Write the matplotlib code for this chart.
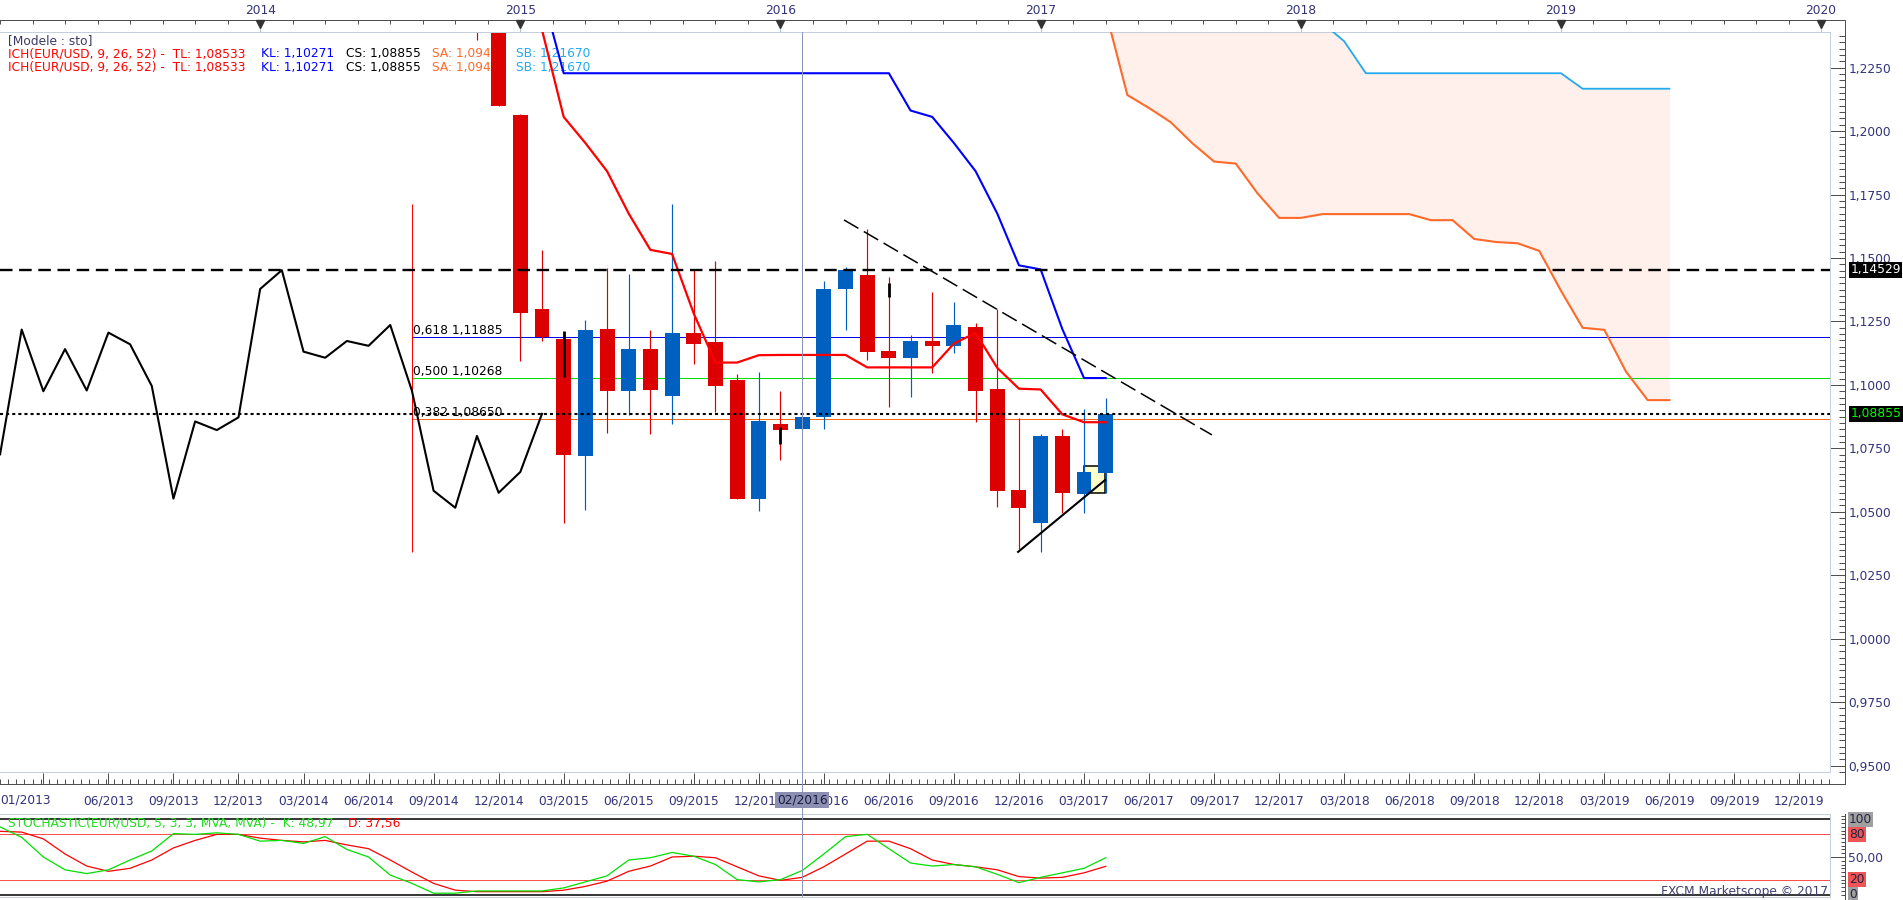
import numpy as np
import matplotlib.pyplot as plt
import matplotlib.transforms as mtransforms
from matplotlib.lines import Line2D
from matplotlib.patches import Rectangle
from matplotlib.ticker import FuncFormatter, MultipleLocator

plt.rcParams['font.family'] = ['DejaVu Sans']
plt.rcParams['lines.scale_dashes'] = False

# ---- donnees ----
mois = ['11/2014', '12/2014', '01/2015', '02/2015', '03/2015', '04/2015', '05/2015', '06/2015',
        '07/2015', '08/2015', '09/2015', '10/2015', '11/2015', '12/2015', '01/2016', '02/2016',
        '03/2016', '04/2016', '05/2016', '06/2016', '07/2016', '08/2016', '09/2016', '10/2016',
        '11/2016', '12/2016', '01/2017', '02/2017', '03/2017', '04/2017']
ouv = [1.2525, 1.2452, 1.2062, 1.1300, 1.1180, 1.0721, 1.1221, 1.0975, 1.1141, 1.0958,
       1.1206, 1.1171, 1.1019, 1.0552, 1.0846, 1.0827, 1.0872, 1.1379, 1.1433, 1.1134,
       1.1107, 1.1173, 1.1154, 1.1228, 1.0984, 1.0586, 1.0455, 1.0799, 1.0570, 1.0654]
haut = [1.2602, 1.2570, 1.2068, 1.1530, 1.1185, 1.1256, 1.1459, 1.1436, 1.1215, 1.1713,
        1.1457, 1.1490, 1.1044, 1.1050, 1.0974, 1.0880, 1.1409, 1.1463, 1.1614, 1.1424,
        1.1197, 1.1366, 1.1326, 1.1243, 1.1298, 1.0868, 1.0805, 1.0826, 1.0904, 1.0947]
bas = [1.2358, 1.2098, 1.1095, 1.1172, 1.0455, 1.0509, 1.0812, 1.0883, 1.0806, 1.0846,
       1.1084, 1.0892, 1.0550, 1.0504, 1.0706, 1.0820, 1.0826, 1.1216, 1.1098, 1.0914,
       1.0954, 1.1048, 1.1127, 1.0855, 1.0520, 1.0352, 1.0343, 1.0494, 1.0496, 1.0573]
ferm = [1.2452, 1.2098, 1.1285, 1.1190, 1.0725, 1.1218, 1.0975, 1.1141, 1.0978, 1.1206,
        1.1160, 1.0996, 1.0552, 1.0856, 1.0822, 1.0872, 1.1378, 1.1452, 1.1131, 1.1107,
        1.1173, 1.1154, 1.1236, 1.0977, 1.0583, 1.0516, 1.0799, 1.0575, 1.0657, 1.0886]

# petits traits noirs sur certaines bougies
marques_mois = ['03/2015', '01/2016', '06/2016']
marques_haut = [1.1213, 1.0835, 1.1401]
marques_bas = [1.1032, 1.0766, 1.1347]

# Ichimoku (9, 26, 52)
tenkan_debut = '02/2015'
tenkan = [1.2399, 1.2056, 1.1953, 1.1842, 1.1675, 1.1532, 1.1516, 1.1281, 1.1088, 1.1088,
          1.1117, 1.1118, 1.1118, 1.1118, 1.1118, 1.1069, 1.1069, 1.1069, 1.1069, 1.1163,
          1.1205, 1.1067, 1.0985, 1.0982, 1.0884, 1.0853, 1.0853]
kijun_debut = '02/2015'
kijun = [1.2545, 1.2228, 1.2228, 1.2228, 1.2228, 1.2228, 1.2228, 1.2228, 1.2228, 1.2228,
         1.2228, 1.2228, 1.2228, 1.2228, 1.2228, 1.2228, 1.2228, 1.2081, 1.2056, 1.1953,
         1.1842, 1.1675, 1.1471, 1.1455, 1.1220, 1.1027, 1.1027]
nuage_debut = '04/2017'
ssa = [1.2472, 1.2142, 1.2091, 1.2035, 1.1952, 1.1880, 1.1872, 1.1755, 1.1658, 1.1658,
       1.1673, 1.1673, 1.1673, 1.1673, 1.1673, 1.1649, 1.1649, 1.1575, 1.1563, 1.1558,
       1.1528, 1.1371, 1.1225, 1.1217, 1.1052, 1.0940, 1.0940]
ssb = [1.3019, 1.2701, 1.2701, 1.2701, 1.2701, 1.2701, 1.2701, 1.2581, 1.2501, 1.2506,
       1.2426, 1.2354, 1.2228, 1.2228, 1.2228, 1.2228, 1.2228, 1.2228, 1.2228, 1.2228,
       1.2228, 1.2228, 1.2167, 1.2167, 1.2167, 1.2167, 1.2167]
decalage_cs = 26

# Fibonacci
fib_mois = '08/2014'
fib_haut, fib_bas = 1.1713, 1.0340
fib_noms = ['0,618 1,11885', '0,500 1,10268', '0,382 1,08650']
fib_niveaux = [1.11885, 1.10268, 1.08650]
fib_couleurs = ['#0000E6', '#00E000', '#FF6A10']

niveau_tirets = 1.14529
dernier_cours = 1.08855

# lignes de tendance (index de mois fractionnaire depuis 01/2013, prix)
tendance_t = [38.93, 55.9]
tendance_p = [1.1650, 1.0803]
support_t = [46.96, 50.97]
support_p = [1.0342, 1.0625]
rect_t = [50.0, 50.97]
rect_p = [1.0575, 1.0681]
curseur_mois = '02/2016'

# Stochastique (5, 3, 3), de 01/2013 a 04/2017
stoch_k = [90, 76, 50, 33, 28, 33, 46, 58, 81, 80, 82, 80, 71, 72, 68, 77, 60, 50, 26, 15,
           2, 2, 5, 5, 5, 5, 9, 17, 25, 46, 49, 56, 51, 40, 20, 17, 20, 32, 54, 77,
           80, 61, 42, 38, 40, 37, 27, 16, 23, 29, 35, 48.97]
stoch_d = [84, 83, 74, 54, 38, 31, 35, 46, 62, 72, 80, 80, 75, 72, 70, 72, 66, 61, 46, 30,
           15, 6, 4, 4, 4, 4, 6, 11, 18, 31, 38, 50, 51, 49, 37, 25, 19, 23, 37, 54,
           71, 71, 61, 46, 40, 37, 33, 24, 22, 23, 29, 37.56]

annees = ['2014', '2015', '2016', '2017', '2018', '2019', '2020']
trimestres = ['03/2013', '06/2013', '09/2013', '12/2013', '03/2014', '06/2014', '09/2014',
              '12/2014', '03/2015', '06/2015', '09/2015', '12/2015', '03/2016', '06/2016',
              '09/2016', '12/2016', '03/2017', '06/2017', '09/2017', '12/2017', '03/2018',
              '06/2018', '09/2018', '12/2018', '03/2019', '06/2019', '09/2019', '12/2019']


def idx(m):
    mm, yy = m.split('/')
    return (int(yy) - 2013) * 12 + int(mm) - 1


W, H = 1903, 900
PX = 0.72  # 1 px en points


def fx(x):
    return x / W


def fy(y):
    return 1 - y / H


ROUGE = '#DD0000'
BLEU = '#0060C0'
BORD = '#C5CEDD'
TXT = '#33337A'
AXE = '#505050'

fig = plt.figure(figsize=(W / 100, H / 100), dpi=100)
fig.patch.set_facecolor('white')

ax = fig.add_axes([0, fy(772), fx(1830), (772 - 32) / H])
ax.set_xlim(0, 1830 / 21.68)
ax.set_ylim(0.947478, 1.239047)
ax.set_xticks([])
ax.set_yticks([])
for s in ax.spines.values():
    s.set_color(BORD)
    s.set_linewidth(PX)
ax.spines['left'].set_visible(False)

# nuage
tc = np.arange(len(ssa)) + idx(nuage_debut)
ax.fill_between(tc, ssa, ssb, color='#FFF0EB', lw=0, zorder=0.5)
ax.plot(tc, ssa, color='#FF6A2A', lw=1.5, zorder=3)
ax.plot(tc, ssb, color='#22AAEE', lw=1.3, zorder=3)

# fibonacci
tf = idx(fib_mois)
for nom, niv, col in zip(fib_noms, fib_niveaux, fib_couleurs):
    ax.hlines(niv, tf, 200, color=col, lw=PX, zorder=1)
    ax.text(tf + 0.05, niv, nom, ha='left', va='bottom', fontsize=8.8, color='black', zorder=1.2)
ax.vlines(tf, fib_bas, fib_haut, color='#FF0000', lw=PX, zorder=1)

# rectangle
ax.add_patch(Rectangle((rect_t[0], rect_p[0]), rect_t[1] - rect_t[0], rect_p[1] - rect_p[0],
                       facecolor='#FFFFCC', edgecolor='black', lw=1.1, zorder=1.5))

# bougies
t = np.array([idx(m) for m in mois])
o, h, l, c = map(np.array, (ouv, haut, bas, ferm))
couleurs = np.where(c >= o, BLEU, ROUGE)
ax.vlines(t, l, h, colors=couleurs, lw=0.85, zorder=2)
ax.bar(t, np.abs(c - o), bottom=np.minimum(o, c), width=0.69, color=couleurs,
       edgecolor='none', zorder=2.1)
ax.vlines([idx(m) for m in marques_mois], marques_bas, marques_haut, colors='black', lw=2.0, zorder=2.2)

# chikou (cloture decalee de 26 mois)
ax.plot(t - decalage_cs, c, color='black', lw=1.5, zorder=3)

# tenkan / kijun
ax.plot(np.arange(len(tenkan)) + idx(tenkan_debut), tenkan, color='#FF0000', lw=1.6, zorder=3.2)
ax.plot(np.arange(len(kijun)) + idx(kijun_debut), kijun, color='#0000FF', lw=1.5, zorder=3.1)

# lignes horizontales
ax.axhline(niveau_tirets, color='black', lw=1.7, ls=(0, (9, 4.8)), zorder=3.5)
ax.axhline(dernier_cours, color='black', lw=1.5, ls=(0, (2.2, 2.2)), zorder=3.5)
ax.plot(tendance_t, tendance_p, color='black', lw=1.1, ls=(0, (12, 4.5)), zorder=3.6)
ax.plot(support_t, support_p, color='black', lw=1.5, zorder=3.6)

# curseur
tcur = idx(curseur_mois)
ax.axvline(tcur, ymin=-(897 - 772) / 740, ymax=1, clip_on=False, color='#8896BC', lw=PX, zorder=6)

# legendes en haut a gauche
def ptxt(x, y, s, col):
    ax.text(x / 1830, (772 - y) / 740, s, transform=ax.transAxes, ha='left', va='center',
            fontsize=8.8, color=col, zorder=1)


ptxt(8, 41, '[Modele : sto]', '#3A3A6A')
for yy in (54, 67):
    ptxt(8, yy, 'ICH(EUR/USD, 9, 26, 52) -  TL: 1,08533', '#FF0000')
    ptxt(261, yy, 'KL: 1,10271', '#0000FF')
    ptxt(346, yy, 'CS: 1,08855', 'black')
    ptxt(432, yy, 'SA: 1,09402', '#FF6A2A')
    ptxt(516, yy, 'SB: 1,21670', '#22AAEE')

# axe des prix (droite)
secy = ax.secondary_yaxis(1 + 15 / 1830)
secy.yaxis.set_major_locator(MultipleLocator(0.025))
secy.yaxis.set_minor_locator(MultipleLocator(0.0025))
secy.yaxis.set_major_formatter(FuncFormatter(lambda v, p: f"{v:.4f}".replace('.', ',')))
secy.tick_params(which='major', direction='in', length=15 * PX, width=PX, color=AXE,
                 labelcolor=TXT, labelsize=8.8, pad=2.5)
secy.tick_params(which='minor', direction='in', length=6 * PX, width=PX, color=AXE)
secy.spines['right'].set_color(AXE)
secy.spines['right'].set_linewidth(PX)

bl = mtransforms.blended_transform_factory(ax.transAxes, ax.transData)
ax.text(1 + 20.5 / 1830, niveau_tirets, '1,14529', transform=bl, ha='left', va='center',
        fontsize=8.8, color='white', clip_on=False, zorder=10,
        bbox=dict(boxstyle='square,pad=0.12', facecolor='black', edgecolor='none'))
ax.text(1 + 20.5 / 1830, dernier_cours, '1,08855', transform=bl, ha='left', va='center',
        fontsize=8.8, color='#00FF00', clip_on=False, zorder=10,
        bbox=dict(boxstyle='square,pad=0.12', facecolor='black', edgecolor='none'))

# axe des annees (haut)
sectop = ax.secondary_xaxis(1 + 12 / 740)
tan = [12 * (i + 1) for i in range(len(annees))]
sectop.set_xticks(tan, annees)
sectop.xaxis.set_minor_locator(MultipleLocator(1.5))
sectop.tick_params(which='major', direction='in', length=12 * PX, width=PX, color='#B8C2D8',
                   labelcolor=TXT, labelsize=8.8, pad=2.0)
sectop.tick_params(which='minor', direction='in', length=4 * PX, width=PX, color=AXE)
sectop.spines['top'].set_color(AXE)
sectop.spines['top'].set_linewidth(PX)
bx = mtransforms.blended_transform_factory(ax.transData, ax.transAxes)
ax.plot(tan, [1 + 8.5 / 740] * len(tan), transform=bx, ls='none', marker='v', ms=6,
        color='#333333', clip_on=False, zorder=5)

# axe des dates (bas)
secb = ax.secondary_xaxis(-12 / 740)
tq = [2 + 3 * i for i in range(len(trimestres))]
secb.set_xticks(tq, [''] + trimestres[1:])
secb.xaxis.set_minor_locator(MultipleLocator(0.375))
secb.tick_params(which='major', direction='in', length=11 * PX, width=PX, color=AXE,
                 labelcolor=TXT, labelsize=8.8, pad=7.5)
secb.tick_params(which='minor', direction='in', length=5 * PX, width=PX, color=AXE)
secb.spines['bottom'].set_color(AXE)
secb.spines['bottom'].set_linewidth(PX)
ax.text(0.5 / 1830, -(800 - 772) / 740, '01/2013', transform=ax.transAxes, ha='left',
        va='center', fontsize=8.8, color=TXT, clip_on=False)
ax.text(tcur, -(800 - 772) / 740, curseur_mois, transform=bx, ha='center', va='center',
        fontsize=8.8, color='#1A1A40', clip_on=False, zorder=10,
        bbox=dict(boxstyle='square,pad=0.15', facecolor='#8C8FB2', edgecolor='none'))

# prolongement des axes
for xs, ys in (([1830, 1845], [20, 20]), ([1845, 1845], [20, 784]), ([1830, 1845], [784, 784]),
               ([1845, 1845], [814, 900])):
    fig.add_artist(Line2D([fx(v) for v in xs], [fy(v) for v in ys], color=AXE, lw=PX))

# ---- panneau stochastique ----
ax2 = fig.add_axes([0, fy(897), fx(1830), (897 - 814) / H])
ax2.set_xlim(ax.get_xlim())
ax2.set_ylim(-3.05, 107.0)
ax2.set_xticks([])
ax2.set_yticks([])
for s in ax2.spines.values():
    s.set_color(BORD)
    s.set_linewidth(PX)
ax2.spines['left'].set_visible(False)
ax2.axhline(100, color='black', lw=1.1)
ax2.axhline(0, color='black', lw=1.1)
ax2.axhline(80, color='#FF5050', lw=PX)
ax2.axhline(20, color='#FF5050', lw=PX)
ts = np.arange(len(stoch_k))
ax2.plot(ts, stoch_d, color='#FF0000', lw=0.9, zorder=3)
ax2.plot(ts, stoch_k, color='#00E000', lw=0.9, zorder=3)
ax2.axvline(tcur, color='#8896BC', lw=PX, zorder=6)
ax2.text(8 / 1830, (897 - 823) / 83, 'STOCHASTIC(EUR/USD, 5, 3, 3, MVA, MVA) -  K: 48,97',
         transform=ax2.transAxes, ha='left', va='center', fontsize=8.8, color='#22DD22')
ax2.text(348 / 1830, (897 - 823) / 83, 'D: 37,56', transform=ax2.transAxes, ha='left',
         va='center', fontsize=8.8, color='#FF0000')

secy2 = ax2.secondary_yaxis(1 + 15 / 1830)
secy2.set_yticks([50], ['50,00'])
secy2.yaxis.set_minor_locator(MultipleLocator(5))
secy2.tick_params(which='major', direction='in', length=15 * PX, width=PX, color=AXE,
                  labelcolor=TXT, labelsize=8.8, pad=2.5)
secy2.tick_params(which='minor', direction='in', length=4 * PX, width=PX, color=AXE)
secy2.spines['right'].set_color(AXE)
secy2.spines['right'].set_linewidth(PX)
bl2 = mtransforms.blended_transform_factory(ax2.transAxes, ax2.transData)
for val, fond in ((100, '#A0A0A0'), (80, '#F05555'), (20, '#F05555'), (0, '#A0A0A0')):
    ax2.text(1 + 19 / 1830, val, str(val), transform=bl2, ha='left', va='center',
             fontsize=8.8, color='#222244', clip_on=False, zorder=10,
             bbox=dict(boxstyle='square,pad=0.1', facecolor=fond, edgecolor='none'))

fig.text(fx(1828), fy(892), 'FXCM Marketscope © 2017', ha='right', va='center',
         fontsize=8.8, color='#404070')

fig.savefig('out.png', dpi=100, facecolor='white')
